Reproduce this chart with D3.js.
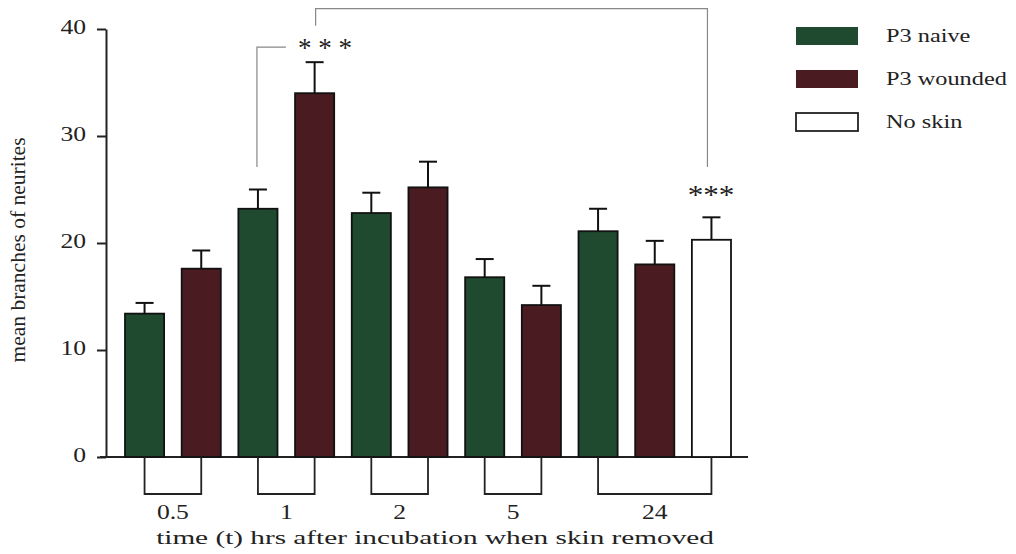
<!DOCTYPE html>
<html>
<head>
<meta charset="utf-8">
<script src="https://cdn.jsdelivr.net/npm/d3@7"></script>
<style>
  body { margin: 0; background: #fff; }
  svg { display: block; }
  text { font-family: "Liberation Serif", "DejaVu Serif", serif; fill: #222; }
</style>
</head>
<body>
<svg id="chart" width="1016" height="554"></svg>
<script>
// Data
const groups = ["0.5", "1", "2", "5", "24"];
const naive = [13.4, 23.2, 22.8, 16.8, 21.1];
const naiveSem = [1.0, 1.8, 1.9, 1.7, 2.1];
const wounded = [17.6, 34.0, 25.2, 14.2, 18.0];
const woundedSem = [1.7, 2.9, 2.4, 1.8, 2.2];
const noSkin = [null, null, null, null, 20.3];
const noSkinSem = [null, null, null, null, 2.1];
const yTicks = [0, 10, 20, 30, 40];
const seriesNames = ["P3 naive", "P3 wounded", "No skin"];

const colors = { naive: "#1f4a2f", wounded: "#4a1c22", noskin: "#ffffff" };
const sx = 1.28; // the figure is stretched horizontally

const svg = d3.select("#chart");

// flat list of bars
const bars = [];
groups.forEach((g, i) => {
    bars.push({ id: g + "-naive", group: g, key: "naive", value: naive[i], sem: naiveSem[i] });
    bars.push({ id: g + "-wounded", group: g, key: "wounded", value: wounded[i], sem: woundedSem[i] });
    if (noSkin[i] != null) {
        bars.push({ id: g + "-noskin", group: g, key: "noskin", value: noSkin[i], sem: noSkinSem[i] });
    }
});

const x = d3.scaleBand()
    .domain(bars.map(d => d.id))
    .range([125, 731])
    .paddingInner(0.31)
    .paddingOuter(0);

const y = d3.scaleLinear().domain([0, 40]).range([457, 29]);
const cx = id => x(id) + x.bandwidth() / 2;

function stretchedText(sel, tx, ty, str, anchor, k) {
    return sel.append("text")
        .attr("transform", `translate(${tx},${ty}) scale(${k || sx},1)`)
        .attr("text-anchor", anchor || "start")
        .text(str);
}

// y axis
const yAxis = svg.append("g")
    .attr("transform", "translate(106,0)")
    .call(d3.axisLeft(y).tickValues(yTicks).tickSize(9).tickSizeOuter(0));
yAxis.select(".domain").attr("stroke", "#222").attr("stroke-width", 2);
yAxis.selectAll(".tick line").attr("stroke", "#222").attr("stroke-width", 2);
yAxis.selectAll(".tick text")
    .attr("x", -20 / sx)
    .attr("dy", "0.22em")
    .attr("transform", `scale(${sx},1)`)
    .style("font-size", "20px")
    .style("font-family", "Liberation Serif, serif")
    .attr("fill", "#333");

// x axis line
svg.append("line")
    .attr("x1", 100).attr("x2", 748)
    .attr("y1", y(0)).attr("y2", y(0))
    .attr("stroke", "#222").attr("stroke-width", 2);

// bars
svg.append("g").selectAll("rect")
    .data(bars)
    .join("rect")
    .attr("x", d => x(d.id))
    .attr("y", d => y(d.value))
    .attr("width", x.bandwidth())
    .attr("height", d => y(0) - y(d.value))
    .attr("fill", d => colors[d.key])
    .attr("stroke", "#111")
    .attr("stroke-width", 1.8);

// error bars (upper only)
const eb = svg.append("g").attr("stroke", "#111").attr("stroke-width", 2);
bars.forEach(d => {
    eb.append("line")
        .attr("x1", cx(d.id)).attr("x2", cx(d.id))
        .attr("y1", y(d.value)).attr("y2", y(d.value + d.sem));
    eb.append("line")
        .attr("x1", cx(d.id) - 9).attr("x2", cx(d.id) + 9)
        .attr("y1", y(d.value + d.sem)).attr("y2", y(d.value + d.sem));
});

// group brackets under the axis with labels
const gb = svg.append("g");
groups.forEach(g => {
    const ids = bars.filter(b => b.group === g).map(b => b.id);
    const x1 = cx(ids[0]), x2 = cx(ids[ids.length - 1]);
    gb.append("path")
        .attr("d", `M${x1},${y(0)}V494H${x2}V${y(0)}`)
        .attr("fill", "none")
        .attr("stroke", "#222")
        .attr("stroke-width", 1.8);
    stretchedText(gb, (x1 + x2) / 2, 519, g, "middle")
        .style("font-size", "20px");
});

// x axis title
stretchedText(svg, 435, 544, "time (t) hrs after incubation when skin removed", "middle", 1.5)
    .style("font-size", "19.5px");

// y axis title
svg.append("text")
    .attr("transform", "translate(25,250) rotate(-90)")
    .attr("text-anchor", "middle")
    .style("font-size", "21.5px")
    .text("mean branches of neurites");

// significance brackets
const sig = svg.append("g")
    .attr("fill", "none")
    .attr("stroke", "#888")
    .attr("stroke-width", 1.2);
sig.append("path")
    .attr("d", `M${cx("1-naive") - 1},${y(27.1)}V${y(38.3)}H${cx("1-naive") + 28}`);
sig.append("path")
    .attr("d", `M${cx("1-wounded") + 1},${y(40.3)}V${y(41.9)}H${cx("24-noskin") - 4}V${y(27.1)}`);

stretchedText(svg, 325, 57, "* * *", "middle", 1.0)
    .style("font-size", "27px").attr("fill", "#555");
stretchedText(svg, 711, 204, "***", "middle", 1.15)
    .style("font-size", "27px").attr("fill", "#555");

// legend
const legend = svg.append("g");
["naive", "wounded", "noskin"].forEach((k, i) => {
    const ly = 27 + i * 43;
    legend.append("rect")
        .attr("x", 796).attr("y", ly)
        .attr("width", 62).attr("height", 18)
        .attr("fill", colors[k])
        .attr("stroke", k === "noskin" ? "#222" : "none")
        .attr("stroke-width", 1.8);
    stretchedText(legend, 886, ly + 14.5, seriesNames[i], "start")
        .style("font-size", "19px");
});
</script>
</body>
</html>
